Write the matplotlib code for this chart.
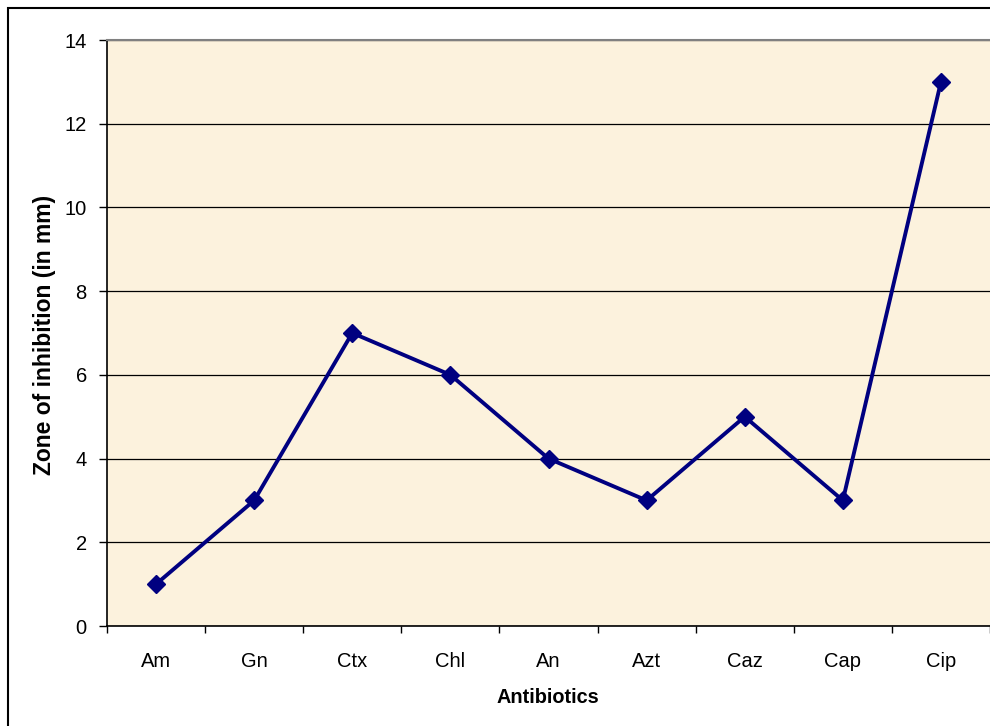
import matplotlib
matplotlib.use("Agg")
import matplotlib.pyplot as plt
from matplotlib.patches import Rectangle

plt.rcParams['font.family'] = ['Liberation Sans', 'DejaVu Sans']

antibiotics = ["Am", "Gn", "Ctx", "Chl", "An", "Azt", "Caz", "Cap", "Cip"]
zone_mm = [1, 3, 7, 6, 4, 3, 5, 3, 13]
y_ticks = [0, 2, 4, 6, 8, 10, 12, 14]

W, H = 990, 726
fig = plt.figure(figsize=(W / 100, H / 100), dpi=100)
fig.patch.set_facecolor('white')

# outer chart frame
fig.patches.append(Rectangle((8 / W, -0.1), 1.2, (H - 8) / H + 0.1, transform=fig.transFigure,
                             fill=False, edgecolor='black', linewidth=1.5))

ax = fig.add_axes([107 / W, (H - 626) / H, 883 / W, 586 / H])
ax.set_facecolor('#FCF2DD')

x = list(range(len(antibiotics)))
ax.set_xlim(-0.5, len(antibiotics) - 0.5)
ax.set_ylim(0, 14)

ax.set_yticks(y_ticks)
ax.set_yticklabels([str(v) for v in y_ticks], fontsize=14.5)
ax.yaxis.grid(True, color='black', linewidth=0.9)
ax.set_axisbelow(True)

# category boundaries carry the tick marks, category centres carry the names
ax.set_xticks([i + 0.5 for i in range(-1, len(antibiotics))], minor=False)
ax.set_xticklabels([])
ax.set_xticks(x, minor=True)
ax.set_xticklabels(antibiotics, minor=True, fontsize=14.5)
ax.tick_params(axis='x', which='major', direction='out', length=5, width=1, color='black')
ax.tick_params(axis='x', which='minor', length=0, pad=19)
ax.tick_params(axis='y', direction='out', length=6, width=1, pad=8.5)

ax.plot(x, zone_mm, color='#000080', linewidth=2.8, marker='D', markersize=9,
        markerfacecolor='#000080', markeredgecolor='#000080', clip_on=False, zorder=5)

for side in ('left', 'bottom'):
    ax.spines[side].set_color('black')
    ax.spines[side].set_linewidth(1.2)
ax.spines['top'].set_color('#808080')
ax.spines['top'].set_linewidth(1.5)
ax.spines['right'].set_visible(False)

fig.text(548 / W, 1 - 703 / H, "Antibiotics", ha='center', va='baseline',
         fontsize=14.3, fontweight='bold')
fig.text(51.5 / W, 1 - 335 / H, "Zone of inhibition (in mm)", ha='center', va='baseline',
         rotation=90, rotation_mode='anchor', fontsize=16.5, fontweight='bold')

fig.savefig("out.png", dpi=100)
